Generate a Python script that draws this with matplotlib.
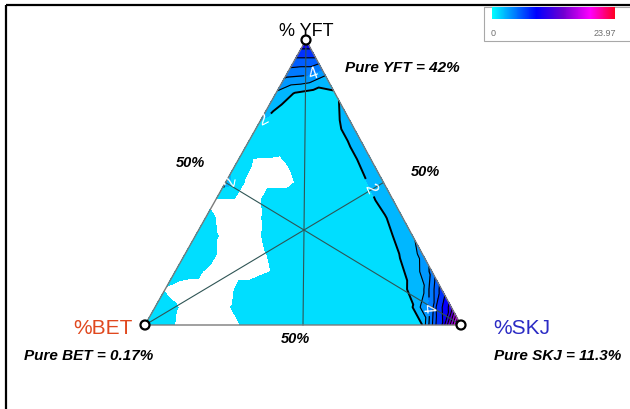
import numpy as np
import matplotlib
matplotlib.use("Agg")
import matplotlib.pyplot as plt
import matplotlib.tri as mtri
from matplotlib.colors import LinearSegmentedColormap, Normalize
from matplotlib.cm import ScalarMappable
from matplotlib.patches import Rectangle, Circle

plt.rcParams['font.family'] = ['Liberation Sans', 'DejaVu Sans']

# ternary grid, 16 steps; row k goes from the BET side (left) to the SKJ side (right)
# yft = 1 - k/16, skj = j/16, bet = (k-j)/16
n_steps = 16
grid_rows = [
    [10],
    [6, 6],
    [4.2, 4, 3],
    [2.8, 1.9, 1.5, 1.8],
    [2.3, 1.5, 1.2, 1.2, 2.3],
    [1.7, 1.2, 1, 1, 1.7, 2.6],
    [0.8, 0.6, 0.5, 1, 1, 1.7, 2.7],
    [1.4, 0, 0, 0.4, 1, 1.2, 1.7, 2.8],
    [2.6, 0.1, 0, 0, 0.5, 1.1, 1.3, 1.8, 2.8],
    [0, 0, 0, 0.8, 0.8, 1, 1.2, 1.4, 1.9, 2.9],
    [0.5, 0, 0, 0.3, 0.9, 1, 1, 1.2, 1.4, 1.8, 2.9],
    [0.9, 0.3, 0, 0, 0.7, 1, 1, 1.1, 1.2, 1.4, 2, 2.9],
    [0.9, 0.6, 0, 0, 0.2, 0.6, 1, 1, 1.1, 1.2, 1.5, 2.1, 3.3],
    [0.5, 0.4, 0, 0, 0, 0.3, 0.8, 1, 1, 1.1, 1.3, 1.7, 2.2, 4.3],
    [0.2, 0, 0, 0, 0.5, 0.8, 0.9, 1, 1, 1.1, 1.2, 1.4, 1.8, 2.6, 6.5],
    [0.6, 0.3, 0, 0, 0.3, 0.7, 0.9, 1, 1, 1, 1.1, 1.2, 1.4, 1.9, 4.5, 11],
    [0.7, 0.5, 0, 0, 0, 0.3, 0.8, 0.9, 1, 1, 1, 1.1, 1.2, 1.5, 1.9, 7.5, 22],
]
vmax = 23.97
fill_levels = [0.25, 2, 3, 4, 5, 6, 8, 10, 12, 14, 16, 18, 20, 22, 24]
line_levels = [3, 5, 6, 8, 10, 12, 14, 16, 18, 20]
label_levels = [2, 4]

labels = ["% YFT", "%SKJ", "%BET"]
pure_text = ["Pure YFT = 42%", "Pure SKJ = 11.3%", "Pure BET = 0.17%"]

# vertex positions (pixels): YFT top, SKJ right, BET left
A = np.array([306.0, 41.0])
C = np.array([461.0, 326.0])
B = np.array([145.0, 326.0])


def to_xy(yft, skj, bet):
    return yft * A + skj * C + bet * B


xs, ys, zs = [], [], []
for k, row in enumerate(grid_rows):
    for j, v in enumerate(row):
        p = to_xy(1 - k / n_steps, j / n_steps, (k - j) / n_steps)
        xs.append(p[0]); ys.append(p[1]); zs.append(v)
xs = np.array(xs); ys = np.array(ys); zs = np.array(zs)

cmap = LinearSegmentedColormap.from_list(
    "cbmr", [(0, "#00ffff"), (0.36, "#0000ff"), (0.58, "#7000d0"),
             (0.8, "#ff00ff"), (1, "#ff0020")])
norm = Normalize(0, vmax)

fig = plt.figure(figsize=(6.3, 4.1), dpi=100)
ax = fig.add_axes([0, 0, 1, 1])
ax.set_xlim(0, 630)
ax.set_ylim(410, 0)
ax.axis("off")

tri = mtri.Triangulation(xs, ys)
ax.tricontourf(tri, zs, levels=fill_levels, cmap=cmap, norm=norm)
ax.tricontour(tri, zs, levels=line_levels, colors="k", linewidths=0.8)
cs = ax.tricontour(tri, zs, levels=label_levels, colors="k", linewidths=[1.4, 0.9])
ax.clabel(cs, inline=True, fmt="%d", colors="white", fontsize=12,
          manual=[(263, 120), (236, 182), (376, 186), (312, 70), (428, 308)])

# medians
mids = [(B + C) / 2, (A + B) / 2, (A + C) / 2]
for v, m in zip([A, C, B], mids):
    ax.plot([v[0], m[0]], [v[1], m[1]], color="#2f5555", lw=0.8, zorder=3)

# triangle outline
tri_pts = np.array([A, C, B, A])
ax.plot(tri_pts[:, 0], tri_pts[:, 1], color="#7a7a7a", lw=1, zorder=3)
for v in [A, B, C]:
    ax.add_patch(Circle(v, 4.5, facecolor="white", edgecolor="black", lw=1.6, zorder=5))

# axis labels
ax.text(306, 31, labels[0], ha="center", va="center", fontsize=13)
ax.text(103, 329, labels[2], ha="center", va="center", fontsize=15, color="#e0481e")
ax.text(493, 329, labels[1], ha="left", va="center", fontsize=15, color="#2b2bc4")
bi = dict(fontsize=11, fontweight="bold", fontstyle="italic", va="center")
ax.text(345, 68, pure_text[0], ha="left", **bi)
ax.text(24, 356, pure_text[2], ha="left", **bi)
ax.text(494, 356, pure_text[1], ha="left", **bi)
half = dict(fontsize=10.5, fontweight="bold", fontstyle="italic", ha="center", va="center")
ax.text(190, 163, "50%", **half)
ax.text(425, 172, "50%", **half)
ax.text(295, 339, "50%", **half)

# frame lines
ax.plot([6, 630], [6, 6], color="black", lw=1.6, solid_capstyle="butt")
ax.plot([6, 6], [6, 410], color="black", lw=1.6, solid_capstyle="butt")

# colour bar box
ax.add_patch(Rectangle((484, 8), 150, 34, fill=False, edgecolor="#a8a8a8", lw=0.8))
cax = fig.add_axes([492 / 630, 1 - 20 / 410, 123 / 630, 12 / 410])
cb = fig.colorbar(ScalarMappable(norm=norm, cmap=cmap), cax=cax, orientation="horizontal")
cb.outline.set_visible(False)
cax.set_xticks([])
ax.text(491, 34, "0", fontsize=6.5, color="#707070", va="center", ha="left")
ax.text(616, 34, "23.97", fontsize=6.5, color="#707070", va="center", ha="right")

fig.savefig("out.png", dpi=100)
